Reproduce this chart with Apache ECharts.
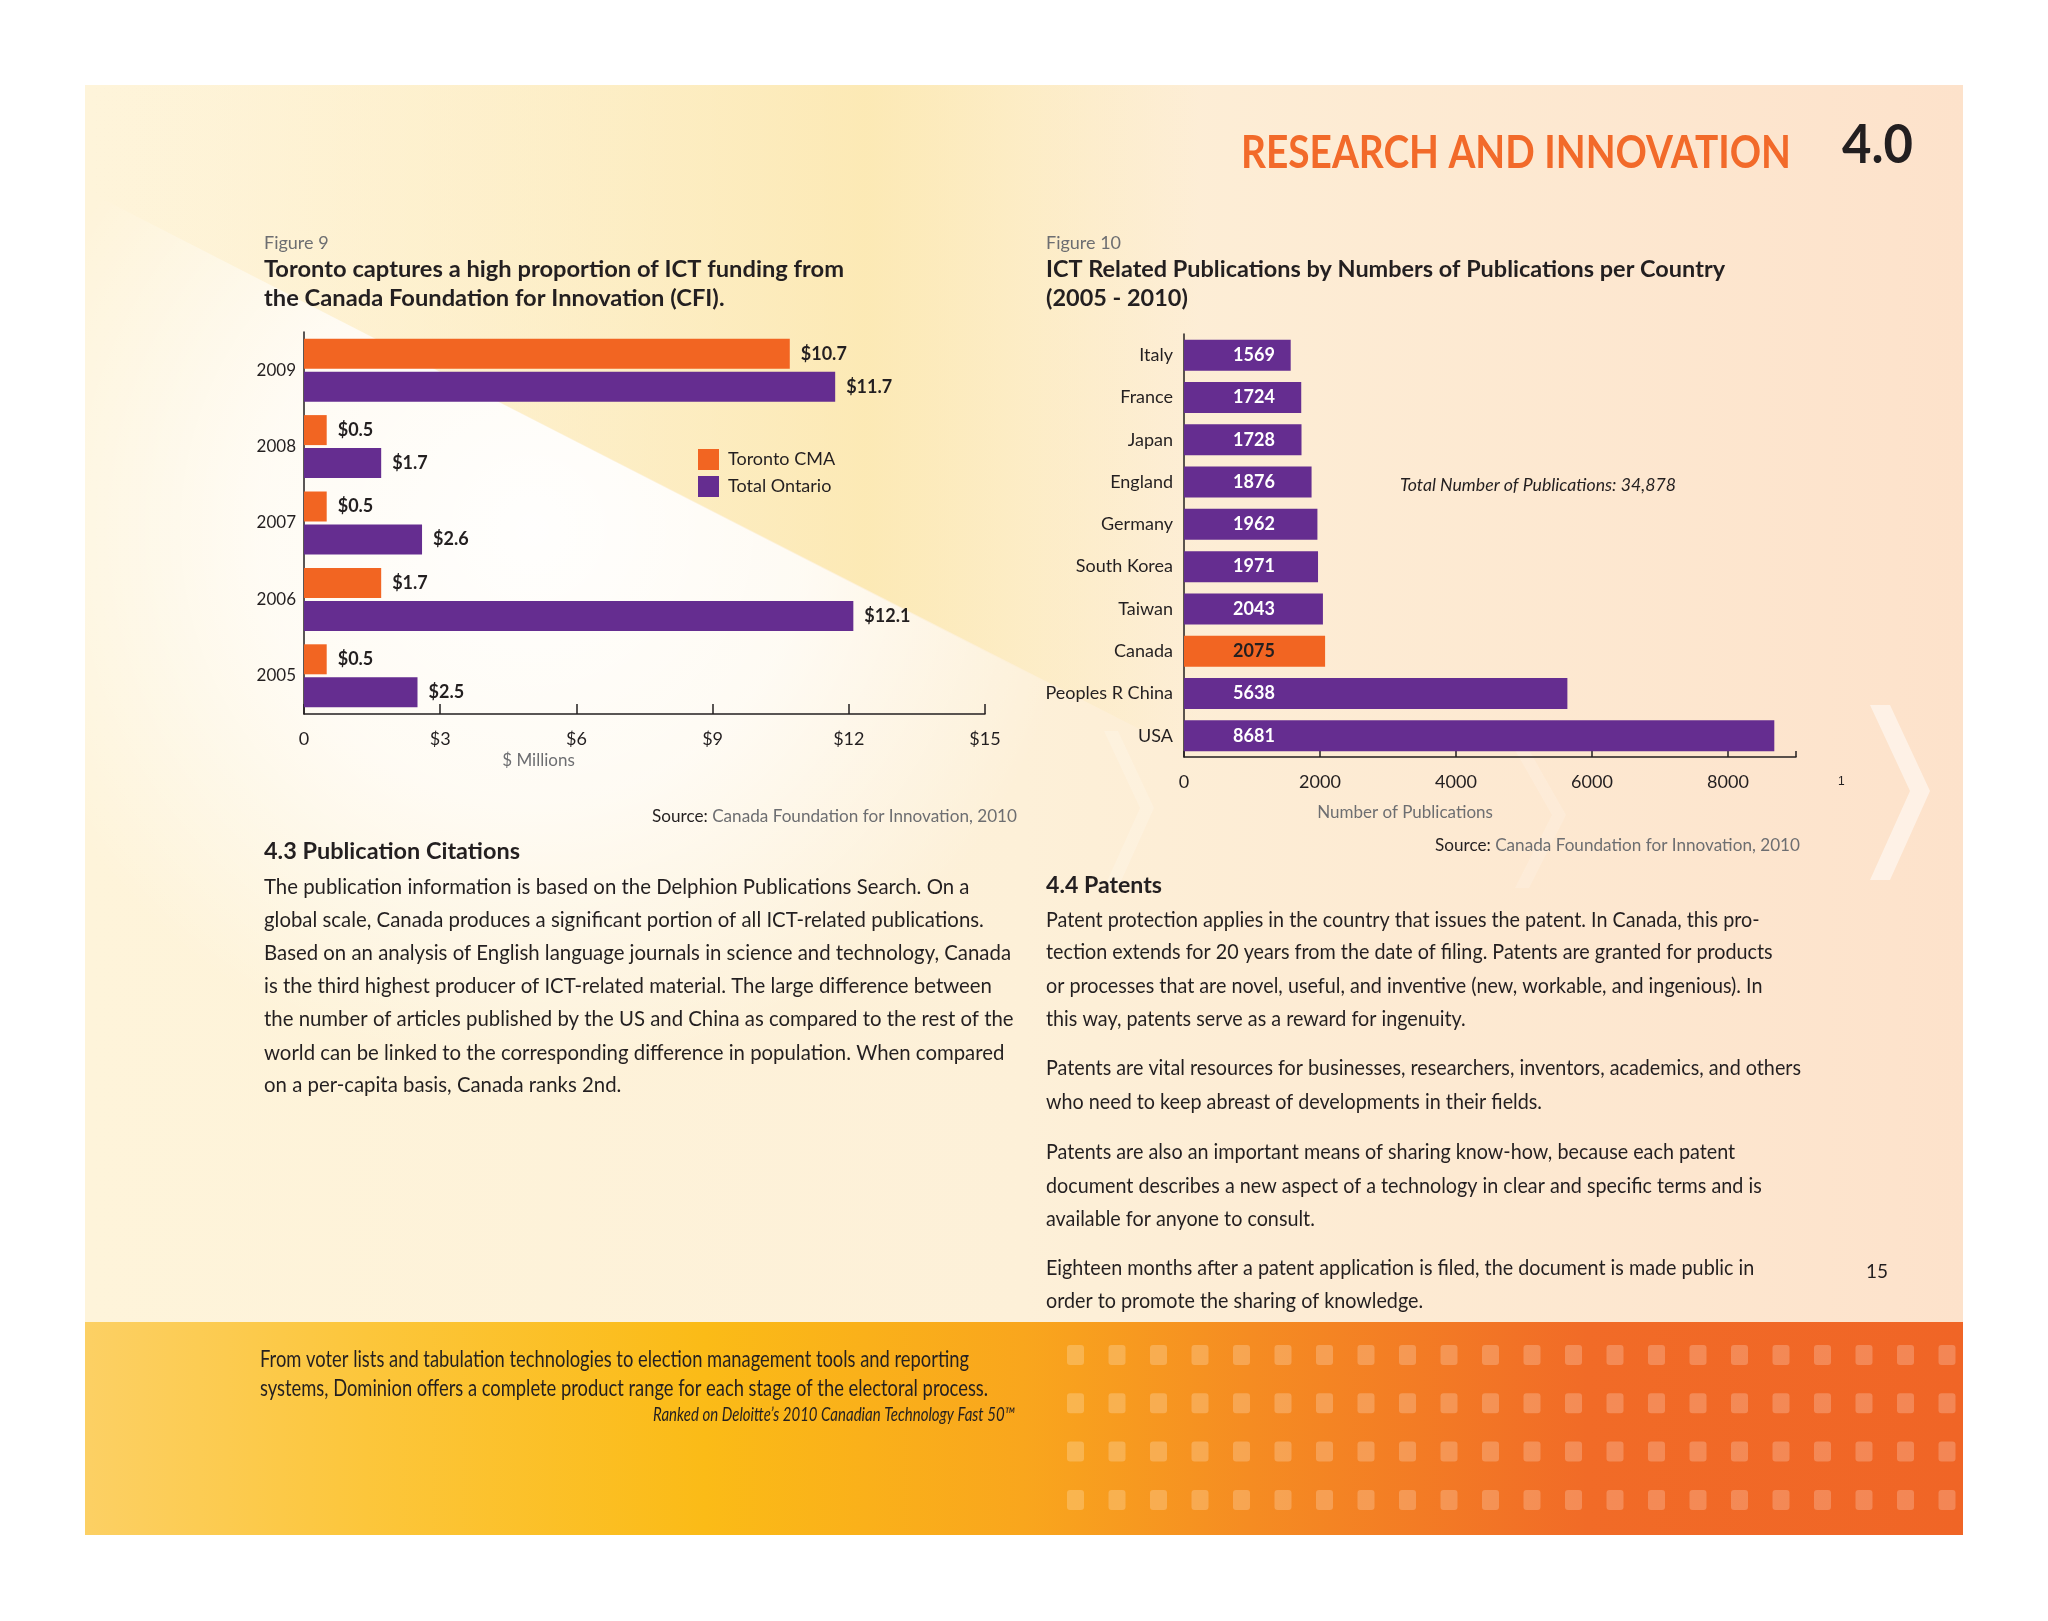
<!DOCTYPE html>
<html><head><meta charset="utf-8">
<script src="https://cdn.jsdelivr.net/npm/echarts@6/dist/echarts.min.js"></script>
<style>html,body{margin:0;padding:0;background:#fff}#c{width:2048px;height:1621px}</style>
</head><body><div id="c"></div>
<script>
// ---------- DATA ----------
const fundingYears = ['2005', '2006', '2007', '2008', '2009'];
const torontoCMA = [0.5, 1.7, 0.5, 0.5, 10.7];
const totalOntario = [2.5, 12.1, 2.6, 1.7, 11.7];
const fundingSeriesNames = ['Toronto CMA', 'Total Ontario'];
const countries = ['Italy', 'France', 'Japan', 'England', 'Germany', 'South Korea', 'Taiwan', 'Canada', 'Peoples R China', 'USA'];
const publications = [1569, 1724, 1728, 1876, 1962, 1971, 2043, 2075, 5638, 8681];
const highlightCountry = 'Canada';
const totalPublicationsText = 'Total Number of Publications: 34,878';

const para43 = [
  'The publication information is based on the Delphion Publications Search. On a',
  'global scale, Canada produces a significant portion of all ICT-related publications.',
  'Based on an analysis of English language journals in science and technology, Canada',
  'is the third highest producer of ICT-related material. The large difference between',
  'the number of articles published by the US and China as compared to the rest of the',
  'world can be linked to the corresponding difference in population. When compared',
  'on a per-capita basis, Canada ranks 2nd.'
];
const para44 = [
  ['Patent protection applies in the country that issues the patent. In Canada, this pro-',
   'tection extends for 20 years from the date of filing. Patents are granted for products',
   'or processes that are novel, useful, and inventive (new, workable, and ingenious). In',
   'this way, patents serve as a reward for ingenuity.'],
  ['Patents are vital resources for businesses, researchers, inventors, academics, and others',
   'who need to keep abreast of developments in their fields.'],
  ['Patents are also an important means of sharing know-how, because each patent',
   'document describes a new aspect of a technology in clear and specific terms and is',
   'available for anyone to consult.'],
  ['Eighteen months after a patent application is filed, the document is made public in',
   'order to promote the sharing of knowledge.']
];

// ---------- helpers ----------
const FAM = 'Lato';
const DARK = '#231f20', GRAY = '#6d6e71', ORANGE = '#f26522', PURPLE = '#652d90';
const mctx = document.createElement('canvas').getContext('2d');
function fontStr(size, weight, style) { return (style || 'normal') + ' ' + (weight || 'normal') + ' ' + size + 'px ' + FAM; }
function fit(text, size, weight, style, target) { mctx.font = fontStr(size, weight, style); return target / mctx.measureText(text).width; }
function txt(x, y, text, o) {
  o = o || {};
  const f = fontStr(o.size || 21, o.weight, o.style);
  const st = { text: text, fill: o.color || DARK, font: f, align: o.align || 'left', textAlign: o.align || 'left', verticalAlign: 'middle', textVerticalAlign: 'middle' };
  if (o.rich) st.rich = o.rich;
  const el = { type: 'text', x: x, y: y, scaleX: o.sx || 1, z: 10, style: st };
  if (o.id) el.id = o.id;
  return el;
}

const graphics = [];
// background
graphics.push({ type: 'rect', z: -20, shape: { x: 85, y: 85, width: 1878, height: 1237 },
  style: { fill: new echarts.graphic.LinearGradient(0, 0, 1, 0, [
    { offset: 0, color: '#fef4da' }, { offset: 0.5, color: '#fdf0d8' }, { offset: 1, color: '#fde2cb' }]) } });
graphics.push({ type: 'polygon', z: -19, shape: { points: [[85, 85], [1200, 85], [1200, 760], [85, 190]] },
  style: { fill: new echarts.graphic.LinearGradient(0, 0, 1, 0, [
    { offset: 0, color: 'rgba(254,242,205,0)' }, { offset: 0.3, color: 'rgba(253,238,195,0.5)' },
    { offset: 0.7, color: 'rgba(252,232,175,0.85)' }, { offset: 1, color: 'rgba(252,232,175,0)' }]) } });
graphics.push({ type: 'polygon', z: -18, shape: { points: [[85, 190], [1080, 700], [1080, 1150], [85, 1322]] },
  style: { fill: new echarts.graphic.RadialGradient(0.45, 0.3, 0.55, [
    { offset: 0, color: 'rgba(255,255,255,0.95)' }, { offset: 0.5, color: 'rgba(255,255,255,0.7)' }, { offset: 1, color: 'rgba(255,255,255,0)' }]) } });
// chevrons
function chevron(x, yTop, tipX, yMid, yBot, th, a) {
  return { type: 'polygon', z: -17, shape: { points: [[x, yTop], [x + th, yTop], [tipX + th, yMid], [x + th, yBot], [x, yBot], [tipX, yMid]] },
    style: { fill: 'rgba(255,255,255,' + a + ')' } };
}
graphics.push(chevron(1104, 731, 1140, 808, 888, 14, 0.18));
graphics.push(chevron(1515, 750, 1552, 815, 888, 14, 0.16));
graphics.push(chevron(1870, 705, 1910, 791, 880, 20, 0.5));
// footer band
graphics.push({ type: 'rect', z: -16, shape: { x: 85, y: 1322, width: 1878, height: 213 },
  style: { fill: new echarts.graphic.LinearGradient(0, 0, 1, 0, [
    { offset: 0, color: '#fcd064' }, { offset: 0.15, color: '#fcc63b' }, { offset: 0.33, color: '#fbbb17' },
    { offset: 0.5, color: '#f9a61d' }, { offset: 0.62, color: '#f58c22' }, { offset: 0.8, color: '#f16b27' }, { offset: 1, color: '#f06526' }]) } });
for (let r = 0; r < 4; r++) {
  for (let c = 0; c < 22; c++) {
    const x = 1067 + c * 41.5;
    graphics.push({ type: 'rect', z: -15, shape: { x: x, y: 1345 + r * 48.3, width: Math.min(17, 1963 - x), height: 20, r: 3 },
      style: { fill: 'rgba(255,255,255,0.22)' } });
  }
}

// header
const hdr = 'RESEARCH AND INNOVATION';
graphics.push(txt(1791, 153, hdr, { size: 46, weight: 'bold', color: '#f26a2a', align: 'right', sx: fit(hdr, 46, 'bold', 'normal', 550) }));
graphics.push(txt(1913, 146, '4.0', { size: 54, weight: 'bold', color: DARK, align: 'right', sx: fit('4.0', 54, 'bold', 'normal', 71) }));

// figure 9 text
const t9a = 'Toronto captures a high proportion of ICT funding from';
const s9 = fit(t9a, 22, 'bold', 'normal', 580);
graphics.push(txt(264, 243, 'Figure 9', { size: 18, color: GRAY }));
graphics.push(txt(264, 270, t9a, { size: 22, weight: 'bold', sx: s9 }));
graphics.push(txt(264, 299, 'the Canada Foundation for Innovation (CFI).', { size: 22, weight: 'bold', sx: s9 }));
const srcRich = { b: { font: fontStr(18, 'normal'), fill: DARK }, g: { font: fontStr(18, 'normal'), fill: GRAY } };
const srcText = '{b|Source:} {g|Canada Foundation for Innovation, 2010}';
mctx.font = fontStr(18, 'normal');
const srcScale = 365 / mctx.measureText('Source: Canada Foundation for Innovation, 2010').width;
graphics.push(txt(1017, 816, srcText, { size: 18, align: 'right', rich: srcRich, sx: srcScale }));

// figure 10 text
const t10a = 'ICT Related Publications by Numbers of Publications per Country';
const s10 = fit(t10a, 22, 'bold', 'normal', 679);
graphics.push(txt(1046, 243, 'Figure 10', { size: 18, color: GRAY }));
graphics.push(txt(1046, 270, t10a, { size: 22, weight: 'bold', sx: s10 }));
graphics.push(txt(1046, 299, '(2005 - 2010)', { size: 22, weight: 'bold', sx: s10 }));
graphics.push(txt(1400, 485, totalPublicationsText, { size: 18, style: 'italic', sx: fit(totalPublicationsText, 18, 'normal', 'italic', 276) }));
graphics.push(txt(1800, 845, srcText, { size: 18, align: 'right', rich: srcRich, sx: srcScale }));
graphics.push(txt(0, 782, '', { id: 'clip10k', size: 18 }));

// section 4.3
graphics.push(txt(264, 852, '4.3 Publication Citations', { size: 22, weight: 'bold', sx: fit('4.3 Publication Citations', 22, 'bold', 'normal', 256) }));
const sL = fit(para43[2], 21, 'normal', 'normal', 747);
const y43 = [887, 920, 953, 986, 1019, 1053, 1085];
para43.forEach((l, i) => graphics.push(txt(264, y43[i], l, { size: 21, sx: sL })));

// section 4.4
graphics.push(txt(1046, 886, '4.4 Patents', { size: 22, weight: 'bold', sx: fit('4.4 Patents', 22, 'bold', 'normal', 116) }));
const sR = fit(para44[1][0], 21, 'normal', 'normal', 755);
const y44 = [[920, 952, 986, 1019], [1068, 1102], [1152, 1186, 1219], [1268, 1301]];
para44.forEach((p, pi) => p.forEach((l, i) => graphics.push(txt(1046, y44[pi][i], l, { size: 21, sx: sR }))));
graphics.push(txt(1877, 1272, '15', { size: 19, align: 'center' }));

// footer text
const f1 = 'From voter lists and tabulation technologies to election management tools and reporting';
const f2 = 'systems, Dominion offers a complete product range for each stage of the electoral process.';
const sF = fit(f1, 24, 'normal', 'normal', 709);
graphics.push(txt(260, 1359, f1, { size: 24, sx: sF }));
graphics.push(txt(260, 1388, f2, { size: 24, sx: sF }));
const f3 = 'Ranked on Deloitte\u2019s 2010 Canadian Technology Fast 50\u2122';
graphics.push(txt(1015, 1415, f3, { size: 19, style: 'italic', align: 'right', sx: fit(f3, 19, 'normal', 'italic', 362) }));

// ---------- chart ----------
const axisLineStyle = { color: DARK, width: 1.5 };
const chart = echarts.init(document.getElementById('c'), null, { renderer: 'canvas' });
const option = {
  animation: false,
  backgroundColor: '#ffffff',
  textStyle: { fontFamily: FAM },
  grid: [
    { left: 304, top: 332, width: 681, height: 382 },
    { left: 1184, top: 334, width: 612, height: 423 }
  ],
  legend: {
    data: fundingSeriesNames, orient: 'vertical', left: 693, top: 444,
    itemWidth: 21, itemHeight: 21, itemGap: 6, icon: 'rect', selectedMode: false,
    textStyle: { fontSize: 18, color: DARK, fontFamily: FAM, padding: [0, 0, 0, 4] }
  },
  xAxis: [
    { gridIndex: 0, type: 'value', min: 0, max: 15, interval: 3,
      axisLine: { show: true, lineStyle: axisLineStyle },
      axisTick: { show: true, inside: true, length: 10, lineStyle: axisLineStyle },
      splitLine: { show: false },
      axisLabel: { margin: 16, fontSize: 18, color: DARK, formatter: v => v === 0 ? '0' : '$' + v },
      name: '$ Millions', nameLocation: 'middle', nameGap: 38,
      nameTextStyle: { fontSize: 17, color: GRAY, padding: [0, 212, 0, 0] } },
    { gridIndex: 1, type: 'value', min: 0, max: 9000, interval: 2000,
      axisLine: { show: true, lineStyle: axisLineStyle },
      axisTick: { show: true, inside: true, length: 6, lineStyle: axisLineStyle },
      splitLine: { show: false },
      axisLabel: { margin: 16, fontSize: 18, color: DARK, formatter: v => v % 2000 === 0 ? String(v) : '' },
      name: 'Number of Publications', nameLocation: 'middle', nameGap: 47,
      nameTextStyle: { fontSize: 17, color: GRAY, padding: [0, 170, 0, 0] } }
  ],
  yAxis: [
    { gridIndex: 0, type: 'category', data: fundingYears,
      axisLine: { show: true, lineStyle: axisLineStyle }, axisTick: { show: false },
      axisLabel: { margin: 8, fontSize: 17, color: DARK } },
    { gridIndex: 1, type: 'category', data: countries, inverse: true,
      axisLine: { show: true, lineStyle: axisLineStyle }, axisTick: { show: false },
      axisLabel: { margin: 11, fontSize: 18, color: DARK } }
  ],
  series: [
    { name: fundingSeriesNames[0], type: 'bar', xAxisIndex: 0, yAxisIndex: 0, data: torontoCMA,
      barWidth: 30, barGap: '10%', itemStyle: { color: ORANGE },
      label: { show: true, position: 'right', distance: 11, formatter: p => '$' + p.value, fontSize: 18, fontWeight: 'bold', color: DARK } },
    { name: fundingSeriesNames[1], type: 'bar', xAxisIndex: 0, yAxisIndex: 0, data: totalOntario,
      barWidth: 30, barGap: '10%', itemStyle: { color: PURPLE },
      label: { show: true, position: 'right', distance: 11, formatter: p => '$' + p.value, fontSize: 18, fontWeight: 'bold', color: DARK } },
    { name: 'Publications', type: 'bar', xAxisIndex: 1, yAxisIndex: 1, barWidth: 31,
      data: publications.map((v, i) => countries[i] === highlightCountry
        ? { value: v, itemStyle: { color: ORANGE }, label: { color: DARK } } : v),
      itemStyle: { color: PURPLE },
      label: { show: true, position: [70, '50%'], align: 'center', verticalAlign: 'middle', fontSize: 18, fontWeight: 'bold', color: '#ffffff' } }
  ],
  graphic: { elements: graphics }
};
chart.setOption(option);
// the original tick label at 10000 is cut off, leaving only its first digit visible
const x10k = chart.convertToPixel({ xAxisIndex: 1 }, 10000);
mctx.font = fontStr(18, 'normal');
chart.setOption({ graphic: { elements: [{ id: 'clip10k', x: x10k - mctx.measureText('10000').width / 2, style: { text: '1' } }] } });
</script></body></html>
